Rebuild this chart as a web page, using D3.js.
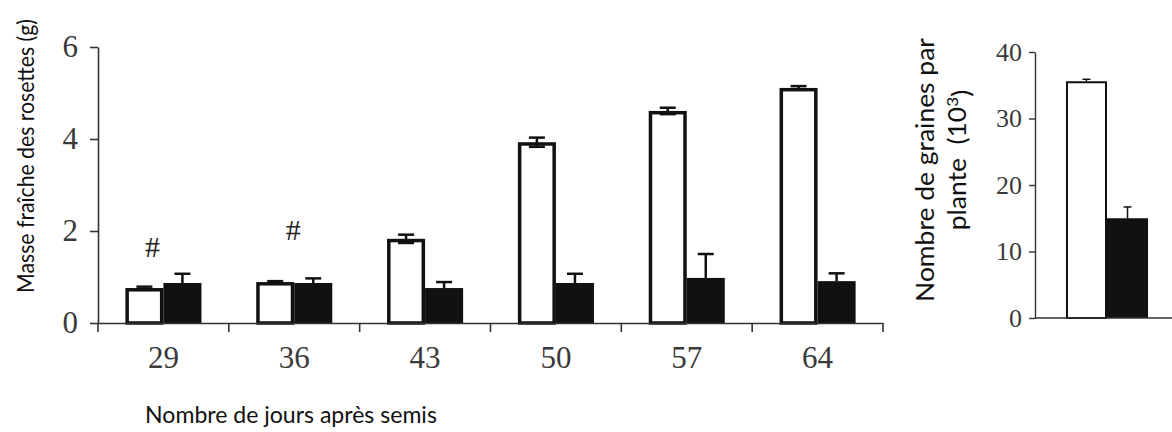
<!DOCTYPE html>
<html><head><meta charset="utf-8">
<script src="https://cdn.jsdelivr.net/npm/d3@7"></script>
<style>html,body{margin:0;padding:0;background:#fff}svg{display:block}</style>
</head><body>
<svg id="c" width="1172" height="432"></svg>
<script>
// ---- data ----
const days = ["29","36","43","50","57","64"];
const seriesNames = ["white","black"];
const massWhite = [0.76,0.89,1.83,3.93,4.61,5.11];
const massWhiteErr = [0.03,0.02,0.09,0.10,0.07,0.04];
const massBlack = [0.87,0.87,0.76,0.87,0.98,0.91];
const massBlackErr = [0.20,0.10,0.13,0.20,0.52,0.17];
const massTicks = [0,2,4,6];
const hashMarks = [{day:"29", y:1.67, dx:-11},{day:"36", y:2.04, dx:-1}];
const seedGroups = ["plant"];
const seedWhite = [35.6];
const seedWhiteErr = [0.3];
const seedBlack = [15.0];
const seedBlackErr = [1.7];
const seedTicks = [0,10,20,30,40];

const svg = d3.select("#c");
const ink = "#111";
const tickCol = "#3a3a3a";
const sans = "Lato, 'Open Sans', sans-serif";
const serif = "'Liberation Serif', 'DejaVu Serif', serif";

// compress/stretch text along its reading direction to a target length
function fitScale(sel, target, base){
  const L = sel.node().getComputedTextLength();
  const sx = L > 0 ? target/L : 1;
  sel.attr("transform", `${base} scale(${sx.toFixed(4)},1)`);
  return sx;
}

// ---- left chart ----
const x = d3.scaleBand().domain(days).range([98,883]).padding(0);
const xs = d3.scaleBand().domain(seriesNames).range([0,x.bandwidth()]).paddingOuter(0.72).paddingInner(0);
const y = d3.scaleLinear().domain([0,6]).range([323,47]);

const gL = svg.append("g");
const rows = days.map((d,i)=>({day:d, vals:[
  {s:"white", v:massWhite[i], e:massWhiteErr[i]},
  {s:"black", v:massBlack[i], e:massBlackErr[i]}]}));
const grp = gL.selectAll("g.grp").data(rows).join("g").attr("transform", d=>`translate(${x(d.day)},0)`);
grp.selectAll("rect").data(d=>d.vals).join("rect")
  .attr("x", d=>xs(d.s) + (d.s==="white"?1.75:0))
  .attr("y", d=>y(d.v) + (d.s==="white"?1.75:0))
  .attr("width", d=>xs.bandwidth() - (d.s==="white"?3.5:0))
  .attr("height", d=>y(0)-y(d.v) - (d.s==="white"?1.75:0))
  .attr("fill", d=>d.s==="white"?"#fff":ink)
  .attr("stroke", d=>d.s==="white"?ink:"none")
  .attr("stroke-width", 3.5);
grp.each(function(d){
  const g = d3.select(this);
  d.vals.forEach(v=>{
    const cx = xs(v.s) + xs.bandwidth()/2;
    const lo = v.s==="white" ? v.v - v.e : v.v;
    g.append("line").attr("x1",cx).attr("x2",cx).attr("y1",y(v.v+v.e)).attr("y2",y(lo))
      .attr("stroke",ink).attr("stroke-width",2.5);
    g.append("line").attr("x1",cx-8).attr("x2",cx+8).attr("y1",y(v.v+v.e)).attr("y2",y(v.v+v.e))
      .attr("stroke",ink).attr("stroke-width",2.5);
    if(v.s==="white"){
      g.append("line").attr("x1",cx-8).attr("x2",cx+8).attr("y1",y(lo)).attr("y2",y(lo))
        .attr("stroke",ink).attr("stroke-width",2.5);
    }
  });
});
gL.selectAll("text.hash").data(hashMarks).join("text")
  .attr("x", d=>x(d.day)+x.bandwidth()/2+d.dx).attr("y", d=>y(d.y))
  .attr("dy","0.35em").attr("text-anchor","middle")
  .attr("font-family", serif).attr("font-size", 30).attr("fill", "#222").text("#");

const yAx = gL.append("g").attr("transform","translate(98,0)")
  .call(d3.axisLeft(y).tickValues(massTicks).tickFormat(d3.format("d")).tickSize(8).tickPadding(12).tickSizeOuter(0));
yAx.select(".domain").attr("stroke","#333").attr("stroke-width",1.6);
yAx.selectAll(".tick line").attr("stroke","#333").attr("stroke-width",1.6);
yAx.selectAll(".tick text").attr("font-family",serif).attr("font-size",31).attr("fill",tickCol);

const xAx = gL.append("g").attr("transform","translate(0,323)")
  .call(d3.axisBottom(x).tickSize(0).tickPadding(23).tickSizeOuter(0));
xAx.select(".domain").attr("stroke","#333").attr("stroke-width",1.6);
xAx.selectAll(".tick text").attr("font-family",serif).attr("font-size",31).attr("fill",tickCol);
const bounds = days.map(d=>x(d)).concat([x.range()[1]]);
xAx.selectAll("line.bt").data(bounds).join("line").attr("class","bt")
  .attr("x1",d=>d).attr("x2",d=>d).attr("y1",0).attr("y2",9)
  .attr("stroke","#333").attr("stroke-width",1.6);

const tY = svg.append("text")
  .attr("text-anchor","middle").attr("dy","0.35em")
  .attr("font-family",sans).attr("font-size",23).attr("fill","#111")
  .text("Masse fraîche des rosettes (g)");
fitScale(tY, 274, "translate(26,156) rotate(-90)");
const tX = svg.append("text")
  .attr("text-anchor","middle").attr("dy","0.35em")
  .attr("font-family",sans).attr("font-size",23).attr("fill","#111")
  .text("Nombre de jours après semis");
fitScale(tX, 292, "translate(291,415)");

// ---- right chart ----
const x2 = d3.scaleBand().domain(seedGroups).range([1035,1179]).padding(0);
const xs2 = d3.scaleBand().domain(seriesNames).range([0,x2.bandwidth()]).paddingOuter(0.755).paddingInner(0);
const y2 = d3.scaleLinear().domain([0,40]).range([318,52]);
const gR = svg.append("g");
const rows2 = seedGroups.map((d,i)=>({g:d, vals:[
  {s:"white", v:seedWhite[i], e:seedWhiteErr[i]},
  {s:"black", v:seedBlack[i], e:seedBlackErr[i]}]}));
const grp2 = gR.selectAll("g.grp").data(rows2).join("g").attr("transform", d=>`translate(${x2(d.g)},0)`);
grp2.selectAll("rect").data(d=>d.vals).join("rect")
  .attr("x", d=>xs2(d.s) + (d.s==="white"?1:0))
  .attr("y", d=>y2(d.v) + (d.s==="white"?1:0))
  .attr("width", d=>xs2.bandwidth() - (d.s==="white"?2:0))
  .attr("height", d=>y2(0)-y2(d.v) - (d.s==="white"?1:0))
  .attr("fill", d=>d.s==="white"?"#fff":ink)
  .attr("stroke", d=>d.s==="white"?ink:"none")
  .attr("stroke-width", 2);
grp2.each(function(d){
  const g = d3.select(this);
  d.vals.forEach(v=>{
    const cx = xs2(v.s) + xs2.bandwidth()/2;
    g.append("line").attr("x1",cx).attr("x2",cx).attr("y1",y2(v.v+v.e)).attr("y2",y2(v.v))
      .attr("stroke",ink).attr("stroke-width",1.5);
    g.append("line").attr("x1",cx-4).attr("x2",cx+4).attr("y1",y2(v.v+v.e)).attr("y2",y2(v.v+v.e))
      .attr("stroke",ink).attr("stroke-width",1.5);
  });
});
const yAx2 = gR.append("g").attr("transform","translate(1035,0)")
  .call(d3.axisLeft(y2).tickValues(seedTicks).tickSize(6).tickPadding(7).tickSizeOuter(0));
yAx2.select(".domain").attr("stroke","#333").attr("stroke-width",1.4);
yAx2.selectAll(".tick line").attr("stroke","#333").attr("stroke-width",1.4);
yAx2.selectAll(".tick text").attr("font-family",serif).attr("font-size",26).attr("fill",tickCol);
gR.append("line").attr("x1",1035).attr("x2",1172).attr("y1",y2(0)).attr("y2",y2(0))
  .attr("stroke","#333").attr("stroke-width",1.4);

const r1 = svg.append("text")
  .attr("text-anchor","middle").attr("dy","0.35em")
  .attr("font-family",sans).attr("font-size",25).attr("fill","#111")
  .text("Nombre de graines par");
const sxR = fitScale(r1, 264, "translate(925,170) rotate(-90)");
const r2 = svg.append("text")
  .attr("transform", `translate(957,160) rotate(-90) scale(${sxR.toFixed(4)},1)`)
  .attr("text-anchor","middle").attr("dy","0.35em")
  .attr("font-family",sans).attr("font-size",25).attr("fill","#111")
  .attr("xml:space","preserve");
r2.append("tspan").text("plante  (10");
r2.append("tspan").text("3").attr("font-size","0.65em").attr("dy","-0.5em");
r2.append("tspan").text(")").attr("dy","0.5em");
</script>
</body></html>
